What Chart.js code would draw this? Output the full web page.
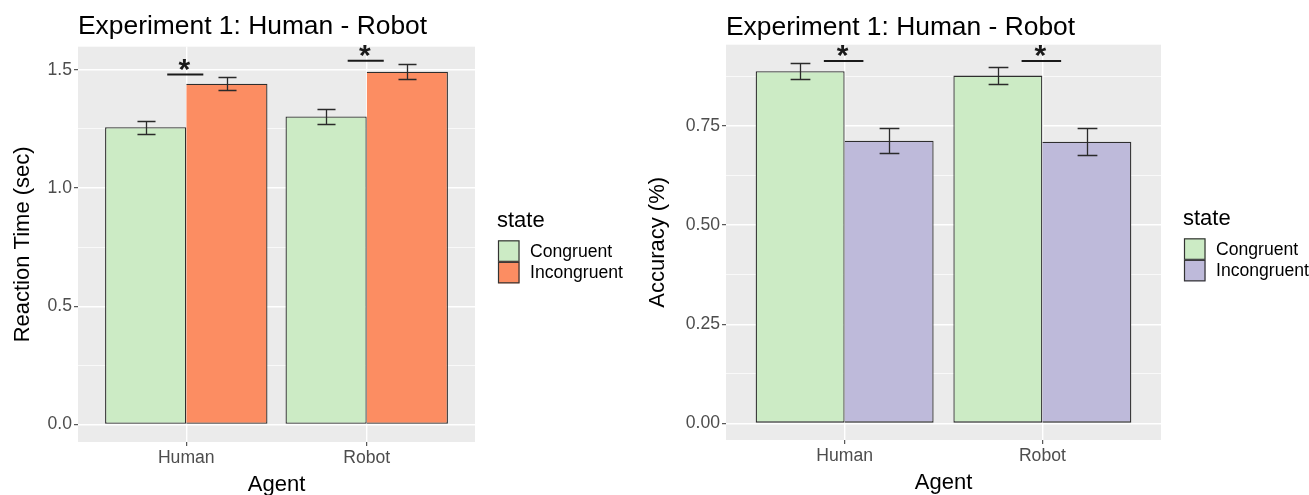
<!DOCTYPE html>
<html lang="en">

<head>
    <meta charset="UTF-8">
    <title>Experiment 1: Human - Robot</title>
    <style>
        body { margin: 0; background: #fff; }
        .box { position: absolute; top: 0; }
    </style>
</head>

<body>
    <div class="box" style="left:0"><canvas id="chartRT" width="640" height="495"></canvas></div>
    <div class="box" style="left:640px"><canvas id="chartAcc" width="669" height="495"></canvas></div>

    <script src="https://cdn.jsdelivr.net/npm/chart.js"></script>
    <script>
        // 資料
        const agents = ['Human', 'Robot'];
        const agentPos = [1, 2];
        const states = ['Congruent', 'Incongruent'];

        // 反應時間 (sec)
        const rtCongruent = [1.257, 1.303];
        const rtIncongruent = [1.441, 1.492];
        const rtCongruentSe = [0.027, 0.031];
        const rtIncongruentSe = [0.028, 0.032];
        const rtSigLevel = [1.48, 1.538];
        const rtTicks = [0, 0.25, 0.5, 0.75, 1, 1.25, 1.5];
        const rtTickLabels = ['0.0', '', '0.5', '', '1.0', '', '1.5'];

        // 正確率
        const accCongruent = [0.888, 0.877];
        const accIncongruent = [0.713, 0.710];
        const accCongruentSe = [0.020, 0.021];
        const accIncongruentSe = [0.032, 0.034];
        const accSigLevel = [0.914, 0.914];
        const accTicks = [0, 0.125, 0.25, 0.375, 0.5, 0.625, 0.75, 0.875];
        const accTickLabels = ['0.00', '', '0.25', '', '0.50', '', '0.75', ''];

        Chart.defaults.font.family = '"Liberation Sans", Arial, sans-serif';
        Chart.defaults.animation = false;

        // 灰底面板 + 誤差線 + 顯著標記 + 圖例
        const ggPlugin = {
            id: 'gg',
            beforeDraw(chart) {
                const { ctx, chartArea: a } = chart;
                ctx.save();
                ctx.fillStyle = '#EBEBEB';
                ctx.fillRect(a.left, a.top, a.right - a.left, a.bottom - a.top);
                ctx.restore();
            },
            afterDatasetsDraw(chart) {
                const { ctx, scales: { x, y } } = chart;
                const o = chart.options.plugins.gg;
                const cap = x.getPixelForValue(1.05) - x.getPixelForValue(1);
                ctx.save();
                ctx.strokeStyle = '#2a2a2a';
                ctx.lineWidth = 1.3;
                chart.data.datasets.forEach(function (ds, di) {
                    chart.getDatasetMeta(di).data.forEach(function (bar, i) {
                        const m = ds.data[i].y, e = ds.errs[i];
                        const t = Math.round(y.getPixelForValue(m + e)) + 0.5;
                        const b = Math.round(y.getPixelForValue(m - e)) + 0.5;
                        const cx = Math.round(bar.x) + 0.5;
                        ctx.beginPath();
                        ctx.moveTo(cx, t); ctx.lineTo(cx, b);
                        ctx.moveTo(cx - cap, t); ctx.lineTo(cx + cap, t);
                        ctx.moveTo(cx - cap, b); ctx.lineTo(cx + cap, b);
                        ctx.stroke();
                    });
                });
                // 顯著標記
                const half = x.getPixelForValue(1.1) - x.getPixelForValue(1);
                ctx.strokeStyle = '#1a1a1a';
                ctx.fillStyle = '#1a1a1a';
                ctx.lineWidth = 2;
                ctx.font = 'bold 30px "Liberation Sans", Arial, sans-serif';
                ctx.textAlign = 'center';
                ctx.textBaseline = 'alphabetic';
                o.sig.forEach(function (lv, i) {
                    const cx = x.getPixelForValue(agentPos[i]);
                    const py = y.getPixelForValue(lv);
                    ctx.beginPath();
                    ctx.moveTo(cx - half - 1, py); ctx.lineTo(cx + half - 1, py);
                    ctx.stroke();
                    ctx.fillText('*', cx - 2, py + 4);
                });
                ctx.restore();
            },
            afterDraw(chart) {
                const { ctx, chartArea: a } = chart;
                const lx = a.right + 23;
                const cy = (a.top + a.bottom) / 2;
                const top0 = cy - 4;
                const sz = 21.5;
                ctx.save();
                ctx.fillStyle = '#000';
                ctx.textAlign = 'left';
                ctx.textBaseline = 'alphabetic';
                ctx.font = '22px "Liberation Sans", Arial, sans-serif';
                ctx.fillText('state', lx - 1, top0 - 13);
                ctx.font = '17.6px "Liberation Sans", Arial, sans-serif';
                ctx.textBaseline = 'middle';
                chart.data.datasets.forEach(function (ds, i) {
                    const by = top0 + i * sz;
                    ctx.fillStyle = ds.backgroundColor;
                    ctx.fillRect(lx, by, sz, sz);
                    ctx.strokeStyle = '#333';
                    ctx.lineWidth = 1.2;
                    ctx.strokeRect(lx + 0.5, by + 0.5, sz - 1, sz - 1);
                    ctx.fillStyle = '#000';
                    ctx.fillText(ds.label, lx + 32, by + sz / 2 + 1);
                });
                ctx.restore();
            }
        };

        function makeChart(id, o) {
            const ctx = document.getElementById(id);
            return new Chart(ctx, {
                type: 'bar',
                data: {
                    datasets: [{
                        label: states[0],
                        data: agentPos.map((p, i) => ({ x: p, y: o.cong[i] })),
                        errs: o.congSe,
                        backgroundColor: '#CCEBC5',
                        borderColor: '#2e2e2e',
                        borderWidth: 1.3,
                        borderSkipped: false
                    }, {
                        label: states[1],
                        data: agentPos.map((p, i) => ({ x: p, y: o.inc[i] })),
                        errs: o.incSe,
                        backgroundColor: o.color2,
                        borderColor: '#2e2e2e',
                        borderWidth: { top: 1.3, right: 1.3, bottom: 1.3, left: 0 },
                        borderSkipped: false
                    }]
                },
                options: {
                    responsive: false,
                    categoryPercentage: 0.9,
                    barPercentage: 1,
                    layout: { padding: { left: 0, right: o.padRight, top: 0, bottom: 0 } },
                    scales: {
                        x: {
                            type: 'linear',
                            min: 0.4,
                            max: 2.6,
                            offset: false,
                            afterBuildTicks: s => { s.ticks = agentPos.map(v => ({ value: v })); },
                            afterFit: s => { s.height = o.xH; },
                            ticks: {
                                callback: v => agents[agentPos.indexOf(v)] || '',
                                color: '#4D4D4D',
                                font: { size: 17.6 },
                                padding: 2,
                                maxRotation: 0,
                                autoSkip: false
                            },
                            grid: {
                                color: '#fff', lineWidth: 1.4, offset: false,
                                drawTicks: true, tickLength: 4, tickColor: '#333', tickWidth: 1
                            },
                            border: { display: false },
                            title: {
                                display: true, text: 'Agent', color: '#000',
                                font: { size: 22, lineHeight: 1 },
                                padding: { top: 0, bottom: o.xTitlePad }
                            }
                        },
                        y: {
                            min: o.yMin,
                            max: o.yMax,
                            afterBuildTicks: s => { s.ticks = o.ticks.map(v => ({ value: v })); },
                            afterFit: s => { s.width = o.yW; },
                            ticks: {
                                callback: v => o.tickLabels[o.ticks.indexOf(v)] || '',
                                color: '#4D4D4D',
                                font: { size: 17.6 },
                                padding: 2,
                                autoSkip: false
                            },
                            grid: {
                                color: '#fff',
                                lineWidth: c => (o.tickLabels[o.ticks.indexOf(c.tick.value)] ? 1.4 : 0.7),
                                drawTicks: true, tickLength: 4, tickWidth: 1,
                                tickColor: c => (o.tickLabels[o.ticks.indexOf(c.tick.value)] ? '#333' : 'rgba(0,0,0,0)')
                            },
                            border: { display: false },
                            title: {
                                display: true, text: o.yTitle, color: '#000',
                                font: { size: 22 },
                                padding: { top: o.yTitlePad, bottom: 0 }
                            }
                        }
                    },
                    plugins: {
                        legend: { display: false },
                        tooltip: { enabled: false },
                        title: {
                            display: true,
                            text: 'Experiment 1: Human - Robot',
                            align: 'start',
                            fullSize: false,
                            color: '#000',
                            font: { size: 26.4, weight: 'normal' },
                            padding: o.titlePad
                        },
                        gg: { sig: o.sig }
                    }
                },
                plugins: [ggPlugin]
            });
        }

        makeChart('chartRT', {
            cong: rtCongruent, inc: rtIncongruent,
            congSe: rtCongruentSe, incSe: rtIncongruentSe,
            sig: rtSigLevel, ticks: rtTicks, tickLabels: rtTickLabels,
            color2: '#FC8D62', yTitle: 'Reaction Time (sec)',
            yMin: -0.074, yMax: 1.598,
            yW: 78, xH: 53, padRight: 165,
            titlePad: { top: 11, bottom: 4 }, yTitlePad: 9.6, xTitlePad: -1
        });

        makeChart('chartAcc', {
            cong: accCongruent, inc: accIncongruent,
            congSe: accCongruentSe, incSe: accIncongruentSe,
            sig: accSigLevel, ticks: accTicks, tickLabels: accTickLabels,
            color2: '#BEBADA', yTitle: 'Accuracy (%)',
            yMin: -0.042, yMax: 0.955,
            yW: 86, xH: 55, padRight: 148,
            titlePad: { top: 12, bottom: 1 }, yTitlePad: 4.3, xTitlePad: 1
        });
    </script>
</body>

</html>
